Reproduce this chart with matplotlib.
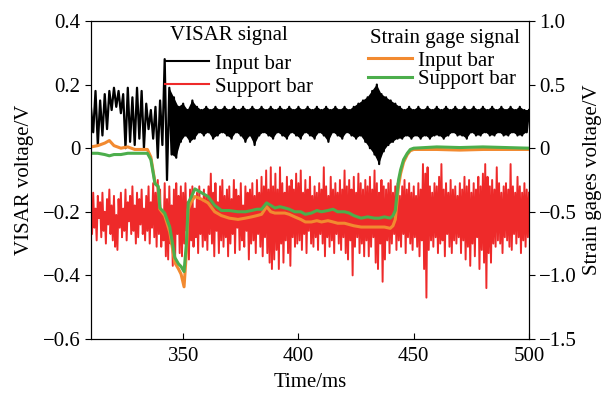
import numpy as np
import matplotlib.pyplot as plt

plt.rcParams['font.family'] = ['Liberation Serif', 'DejaVu Serif']
plt.rcParams['font.size'] = 15
plt.rcParams['axes.unicode_minus'] = True

# VISAR input bar, one value per ms from 310 to 500 ms;
# even samples are the local peaks, odd samples the local troughs
visar_in_t = np.arange(310, 501, 1)
visar_input = [
    0.13, 0.05, 0.18, 0.01, 0.15, 0.04, 0.17, 0.06, 0.18, 0.12,
    0.19, 0.13, 0.18, 0.11, 0.17, 0.00, 0.19, 0.02, 0.16, 0.01,
    0.19, 0.03, 0.18, 0.00, 0.14, 0.06, 0.12, 0.03, 0.13, -0.03,
    0.15, 0.01, 0.28, -0.10, 0.19, -0.02, 0.16, -0.03, 0.13, 0.02,
    0.14, 0.04, 0.12, 0.02, 0.15, 0.03, 0.13, 0.05, 0.12, 0.04,
    0.13, 0.05, 0.12, 0.03, 0.13, 0.04, 0.12, 0.05, 0.13, 0.04,
    0.12, 0.03, 0.13, 0.05, 0.12, 0.04, 0.13, 0.02, 0.12, 0.04,
    0.13, 0.01, 0.12, 0.04, 0.13, 0.05, 0.12, 0.04, 0.13, 0.03,
    0.12, 0.05, 0.13, 0.04, 0.12, 0.03, 0.13, 0.05, 0.12, 0.04,
    0.13, 0.03, 0.12, 0.05, 0.13, 0.04, 0.12, 0.03, 0.13, 0.05,
    0.12, 0.04, 0.13, 0.02, 0.12, 0.05, 0.13, 0.04, 0.12, 0.03,
    0.13, 0.05, 0.12, 0.04, 0.13, 0.03, 0.14, 0.04, 0.15, 0.02,
    0.16, 0.00, 0.18, -0.02, 0.20, -0.05, 0.17, -0.01, 0.16, 0.01,
    0.15, 0.02, 0.14, 0.03, 0.13, 0.03, 0.12, 0.04, 0.13, 0.03,
    0.12, 0.04, 0.13, 0.03, 0.12, 0.04, 0.13, 0.03, 0.12, 0.04,
    0.13, 0.04, 0.12, 0.03, 0.13, 0.04, 0.12, 0.05, 0.13, 0.04,
    0.12, 0.04, 0.13, 0.03, 0.12, 0.05, 0.13, 0.04, 0.12, 0.04,
    0.13, 0.05, 0.12, 0.04, 0.13, 0.04, 0.12, 0.05, 0.13, 0.04,
    0.12, 0.04, 0.13, 0.05, 0.12, 0.04, 0.13, 0.04, 0.12, 0.05,
    0.12,
]

# VISAR support bar, one value per 0.5 ms from 310 to 500 ms
visar_sup_t = np.arange(310, 500.5, 0.5)
visar_support = [
    -0.16, -0.27, -0.14, -0.25, -0.19, -0.29, -0.15, -0.22, -0.17, -0.28, -0.14, -0.26, -0.20, -0.30, -0.16, -0.24, -0.13, -0.27, -0.18, -0.29,
    -0.15, -0.31, -0.21, -0.32, -0.16, -0.25, -0.14, -0.28, -0.19, -0.26, -0.13, -0.29, -0.17, -0.23, -0.15, -0.27, -0.12, -0.26, -0.18, -0.30,
    -0.14, -0.28, -0.16, -0.24, -0.13, -0.27, -0.19, -0.29, -0.15, -0.26, -0.12, -0.30, -0.17, -0.25, -0.11, -0.28, -0.14, -0.31, -0.10, -0.27,
    -0.13, -0.31, -0.20, -0.29, -0.11, -0.34, -0.16, -0.35, -0.12, -0.30, -0.18, -0.37, -0.13, -0.36, -0.11, -0.27, -0.15, -0.33, -0.12, -0.34,
    -0.14, -0.30, -0.11, -0.26, -0.17, -0.35, -0.13, -0.29, -0.12, -0.31, -0.19, -0.28, -0.14, -0.33, -0.12, -0.27, -0.16, -0.31, -0.13, -0.29,
    -0.15, -0.32, -0.12, -0.27, -0.08, -0.30, -0.14, -0.34, -0.11, -0.26, -0.17, -0.33, -0.12, -0.29, -0.10, -0.31, -0.15, -0.28, -0.13, -0.34,
    -0.12, -0.30, -0.16, -0.27, -0.10, -0.33, -0.13, -0.25, -0.15, -0.32, -0.11, -0.29, -0.18, -0.31, -0.12, -0.26, -0.14, -0.35, -0.13, -0.30,
    -0.11, -0.29, -0.15, -0.33, -0.10, -0.27, -0.14, -0.31, -0.09, -0.34, -0.12, -0.28, -0.07, -0.33, -0.13, -0.36, -0.06, -0.38, -0.12, -0.35,
    -0.08, -0.32, -0.13, -0.38, -0.06, -0.30, -0.11, -0.36, -0.14, -0.29, -0.09, -0.33, -0.12, -0.37, -0.10, -0.28, -0.13, -0.31, -0.08, -0.30,
    -0.11, -0.29, -0.07, -0.32, -0.14, -0.27, -0.10, -0.33, -0.13, -0.26, -0.09, -0.30, -0.15, -0.31, -0.12, -0.28, -0.14, -0.32, -0.11, -0.27,
    -0.13, -0.30, -0.06, -0.34, -0.12, -0.28, -0.15, -0.31, -0.09, -0.29, -0.13, -0.33, -0.11, -0.27, -0.14, -0.30, -0.10, -0.32, -0.13, -0.28,
    -0.07, -0.33, -0.12, -0.35, -0.10, -0.29, -0.13, -0.40, -0.09, -0.31, -0.14, -0.28, -0.08, -0.33, -0.11, -0.30, -0.13, -0.34, -0.10, -0.29,
    -0.12, -0.34, -0.09, -0.31, -0.13, -0.28, -0.07, -0.36, -0.11, -0.38, -0.14, -0.30, -0.10, -0.42, -0.12, -0.35, -0.13, -0.29, -0.11, -0.33,
    -0.10, -0.30, -0.14, -0.27, -0.12, -0.32, -0.11, -0.29, -0.15, -0.31, -0.12, -0.27, -0.10, -0.33, -0.13, -0.28, -0.11, -0.30, -0.14, -0.32,
    -0.12, -0.28, -0.15, -0.31, -0.11, -0.34, -0.13, -0.29, -0.05, -0.38, -0.08, -0.47, -0.06, -0.32, -0.12, -0.29, -0.14, -0.31, -0.11, -0.28,
    -0.12, -0.33, -0.09, -0.30, -0.05, -0.29, -0.13, -0.34, -0.11, -0.27, -0.14, -0.31, -0.10, -0.33, -0.13, -0.29, -0.12, -0.30, -0.15, -0.28,
    -0.11, -0.33, -0.13, -0.29, -0.09, -0.35, -0.12, -0.31, -0.10, -0.37, -0.14, -0.30, -0.11, -0.34, -0.13, -0.28, -0.09, -0.38, -0.12, -0.32,
    -0.08, -0.36, -0.05, -0.44, -0.09, -0.33, -0.12, -0.36, -0.10, -0.30, -0.13, -0.31, -0.06, -0.29, -0.11, -0.30, -0.14, -0.33, -0.12, -0.28,
    -0.11, -0.29, -0.13, -0.31, -0.05, -0.32, -0.12, -0.27, -0.14, -0.30, -0.09, -0.28, -0.12, -0.33, -0.14, -0.29, -0.11, -0.31, -0.13, -0.28,
    -0.14,
]

# strain gage signals (right axis)
strain_t = [310, 313, 316, 318, 320, 323, 326, 329, 332, 334.5,
            336, 337.8, 339.2, 339.9, 342, 344.2, 346.4, 348, 349.1, 350.4,
            351.4, 352.2, 353.6, 355.1, 357.9, 360.8, 363.7, 366.6, 370, 373.8,
            377, 379.7, 382, 384, 386.2, 388, 389.8, 392, 394.1, 396,
            398.4, 401, 403, 405.6, 408, 410, 412.8, 415, 417, 420,
            422, 424, 427.2, 430, 433, 435, 437.3, 439.8, 441, 442,
            443.4, 444.3, 445.6, 447.2, 448.5, 450, 455, 460, 470, 480,
            490, 500]
strain_input = [0.01, 0.02, 0.04, 0.06, 0.02, 0.00, 0.01, -0.01, -0.01, -0.01,
                -0.07, -0.27, -0.31, -0.48, -0.53, -0.66, -0.90, -0.95, -0.99, -1.09,
                -0.82, -0.48, -0.42, -0.38, -0.40, -0.43, -0.50, -0.53, -0.55, -0.56,
                -0.55, -0.54, -0.53, -0.52, -0.46, -0.50, -0.51, -0.51, -0.51, -0.52,
                -0.54, -0.56, -0.58, -0.58, -0.57, -0.58, -0.57, -0.58, -0.59, -0.59,
                -0.60, -0.61, -0.62, -0.62, -0.62, -0.62, -0.62, -0.63, -0.61, -0.56,
                -0.30, -0.20, -0.11, -0.05, -0.02, -0.01, -0.01, -0.01, -0.015, -0.01,
                -0.01, -0.01]
strain_support = [-0.04, -0.04, -0.05, -0.06, -0.05, -0.05, -0.04, -0.04, -0.04, -0.04,
                  -0.09, -0.28, -0.30, -0.47, -0.51, -0.62, -0.86, -0.91, -0.93, -0.97,
                  -0.75, -0.43, -0.38, -0.32, -0.35, -0.38, -0.45, -0.49, -0.49, -0.50,
                  -0.50, -0.49, -0.48, -0.48, -0.43, -0.45, -0.47, -0.46, -0.47, -0.48,
                  -0.50, -0.50, -0.52, -0.51, -0.49, -0.50, -0.49, -0.48, -0.50, -0.50,
                  -0.51, -0.53, -0.55, -0.54, -0.55, -0.55, -0.54, -0.55, -0.53, -0.49,
                  -0.25, -0.17, -0.09, -0.04, -0.01, 0.00, 0.005, 0.01, 0.005, 0.01,
                  0.005, 0.00]

left_ticks = [0.4, 0.2, 0, -0.2, -0.4, -0.6]
left_labels = ['0.4', '0.2', '0', '\u22120.2', '\u22120.4', '\u22120.6']
right_ticks = [1.0, 0.5, 0, -0.5, -1.0, -1.5]
right_labels = ['1.0', '0.5', '0', '\u22120.5', '\u22121.0', '\u22121.5']
x_ticks = [350, 400, 450, 500]

RED = '#ee2a2a'


def fill_band(ax, t, y, color, t_from):
    """Fill between the peak samples (even) and trough samples (odd) from t_from on."""
    t = np.asarray(t)
    y = np.asarray(y)
    keep = t >= t_from
    t, y = t[keep], y[keep]
    ax.fill(np.r_[t[0::2], t[1::2][::-1]], np.r_[y[0::2], y[1::2][::-1]],
            color=color, lw=0)


fig = plt.figure(figsize=(6.06, 3.96), dpi=100)
ax = fig.add_axes([0.150, 0.144, 0.723, 0.803])
ax2 = ax.twinx()

fill_band(ax, visar_in_t, visar_input, 'black', 344)
l1, = ax.plot(visar_in_t, visar_input, color='black', lw=1.6)
l2, = ax.plot(visar_sup_t, visar_support, color=RED, lw=1.4)
l3, = ax2.plot(strain_t, strain_input, color='#f28a30', lw=2.2)
l4, = ax2.plot(strain_t, strain_support, color='#4cae4c', lw=2.2)

ax.set_xlim(310, 500)
ax.set_ylim(-0.6, 0.4)
ax2.set_ylim(-1.5, 1.0)
ax.set_xticks(x_ticks)
ax.set_yticks(left_ticks)
ax.set_yticklabels(left_labels)
ax2.set_yticks(right_ticks)
ax2.set_yticklabels(right_labels)

ax.tick_params(axis='x', direction='in', length=4, pad=6)
ax.tick_params(axis='y', direction='out', length=4)
ax2.tick_params(axis='y', direction='out', length=4)

ax.set_xlabel('Time/ms', labelpad=5)
ax.set_ylabel('VISAR voltage/V', labelpad=6)
ax2.set_ylabel('Strain gages voltage/V', labelpad=4)

# legends, with their titles placed as separate texts
h1 = plt.Line2D([], [], color='black', lw=1.5)
h2 = plt.Line2D([], [], color=RED, lw=1.5)
leg1 = ax2.legend([h1, h2], ['Input bar', 'Support bar'],
                  loc='upper left', bbox_to_anchor=(0.169, 0.896), frameon=False,
                  handlelength=2.1, handletextpad=0.3, labelspacing=0.17,
                  borderpad=0, borderaxespad=0)
ax2.add_artist(leg1)
ax2.legend([l3, l4], ['Input bar', 'Support bar'],
           loc='upper left', bbox_to_anchor=(0.632, 0.905), frameon=False,
           handlelength=2.1, handletextpad=0.3, labelspacing=-0.07,
           borderpad=0, borderaxespad=0)
ax2.text(0.180, 0.953, 'VISAR signal', transform=ax2.transAxes,
         ha='left', va='center')
ax2.text(0.637, 0.945, 'Strain gage signal', transform=ax2.transAxes,
         ha='left', va='center')

fig.savefig('out.png', dpi=100)
